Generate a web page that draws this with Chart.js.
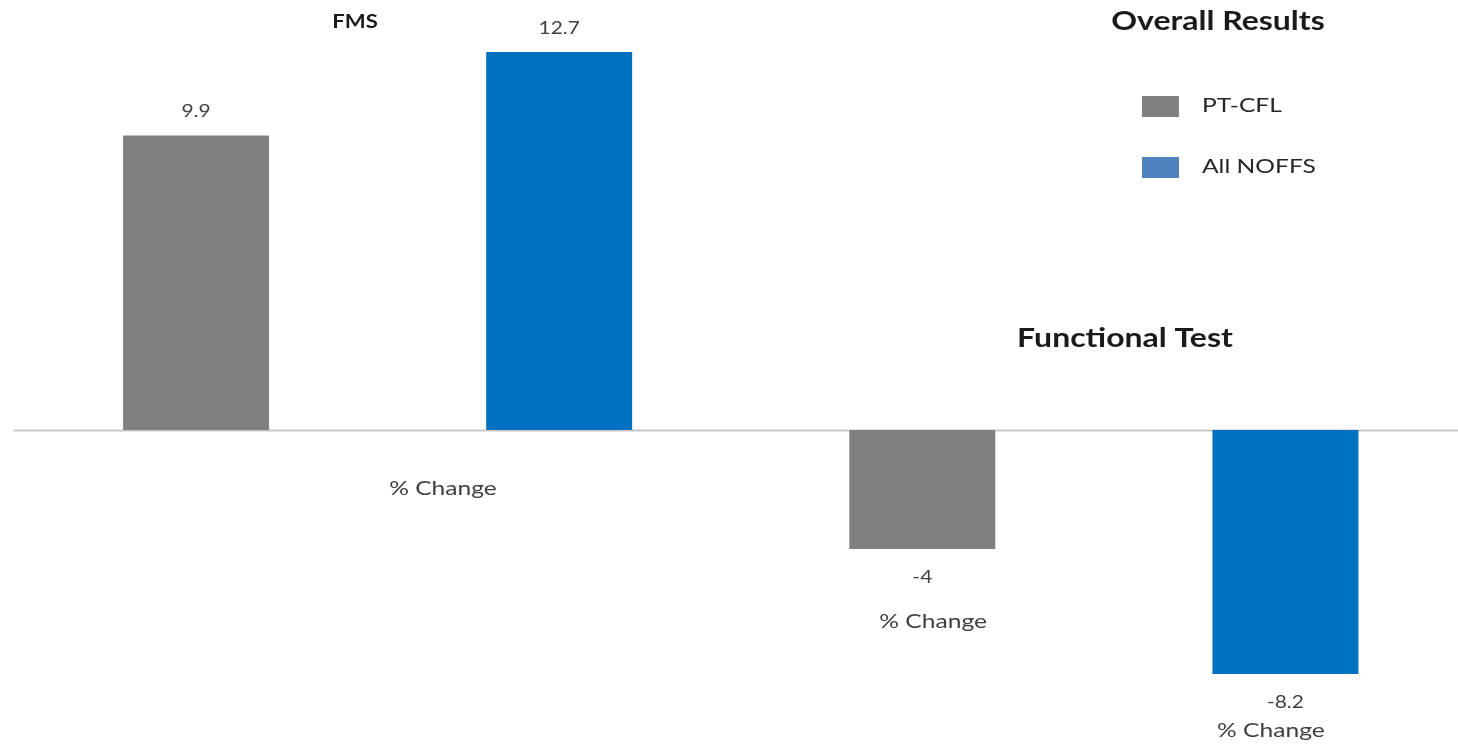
<!DOCTYPE html>
<html>
<head>
<meta charset="utf-8">
<script src="https://cdn.jsdelivr.net/npm/chart.js@4.4.0/dist/chart.umd.min.js"></script>
<style>
  html, body { margin: 0; padding: 0; background: #fff; overflow: hidden; }
  #wrap { position: relative; width: 1467px; height: 744px; }
</style>
</head>
<body>
<div id="wrap"><canvas id="chart"></canvas></div>
<script>
const categories = ["FMS", "Functional Test"];
const seriesNames = ["PT-CFL", "All NOFFS"];
const ptCfl = [9.9, -4];
const allNoffs = [12.7, -8.2];
const barColors = ["#808080", "#0070c0"];
const legendColors = ["#808080", "#4f81bd"];

// "% Change" notes, placed in data space: [category position, value]
const changeNotes = [[0.09, -1.95], [0.765, -6.45], [1.23, -10.1]];

const FONT = "Lato, 'Open Sans', sans-serif";
const STRETCH = 1.23; // text in this chart runs a little wide

const chartEl = document.querySelector("#chart").getContext("2d");

function wideText(ctx, text, x, y) {
    ctx.save();
    ctx.translate(x, y);
    ctx.scale(STRETCH, 1);
    ctx.fillText(text, 0, 0);
    ctx.restore();
}

// zero line, value labels, group titles, legend
const decorations = {
    id: "decorations",
    beforeDatasetsDraw(chart) {
        const { ctx, chartArea, scales } = chart;
        const y0 = Math.round(scales.y.getPixelForValue(0)) + 0.5;
        ctx.save();
        ctx.strokeStyle = "#c8c8c8";
        ctx.lineWidth = 2;
        ctx.beginPath();
        ctx.moveTo(chartArea.left - 1, y0);
        ctx.lineTo(chart.width, y0);
        ctx.stroke();
        ctx.restore();
    },
    afterDatasetsDraw(chart) {
        const { ctx, scales } = chart;
        ctx.save();
        ctx.textAlign = "center";
        ctx.textBaseline = "middle";

        // value labels
        ctx.fillStyle = "#404040";
        ctx.font = "17px " + FONT;
        chart.data.datasets.forEach((ds, i) => {
            chart.getDatasetMeta(i).data.forEach((bar, j) => {
                const v = ds.data[j];
                const y = v >= 0 ? bar.y - 24 : bar.y + 28;
                wideText(ctx, String(v), bar.x, y);
            });
        });

        // "% Change" notes
        ctx.font = "20px " + FONT;
        changeNotes.forEach(([cx, cy]) => {
            wideText(ctx, "% Change", scales.x.getPixelForValue(cx), scales.y.getPixelForValue(cy));
        });

        // group titles
        ctx.fillStyle = "#1a1a1a";
        ctx.font = "bold 18px " + FONT;
        wideText(ctx, categories[0], 355, 22);
        ctx.font = "bold 26px " + FONT;
        wideText(ctx, categories[1], 1125, 339);

        // legend
        ctx.font = "bold 26px " + FONT;
        wideText(ctx, "Overall Results", 1218, 22);
        ctx.textAlign = "left";
        ctx.font = "20px " + FONT;
        seriesNames.forEach((name, i) => {
            const top = 96 + i * 61;
            ctx.fillStyle = legendColors[i];
            ctx.fillRect(1142, top, 37, 21);
            ctx.fillStyle = "#262626";
            wideText(ctx, name, 1202, top + 10);
        });
        ctx.restore();
    }
};

new Chart(chartEl, {
    type: "bar",
    data: {
        labels: categories,
        datasets: [
            {
                label: seriesNames[0],
                data: ptCfl,
                backgroundColor: barColors[0]
            },
            {
                label: seriesNames[1],
                data: allNoffs,
                backgroundColor: barColors[1]
            }
        ]
    },
    options: {
        responsive: true,
        maintainAspectRatio: false,
        animation: false,
        layout: { padding: { left: 14.5, right: 0, top: 0, bottom: 0 } },
        datasets: {
            bar: { categoryPercentage: 1, barPercentage: 0.402 }
        },
        plugins: {
            legend: { display: false },
            tooltip: { enabled: false }
        },
        scales: {
            x: { display: false },
            y: { display: false, min: -10.55, max: 14.45 }
        }
    },
    plugins: [decorations]
});
</script>
</body>
</html>
